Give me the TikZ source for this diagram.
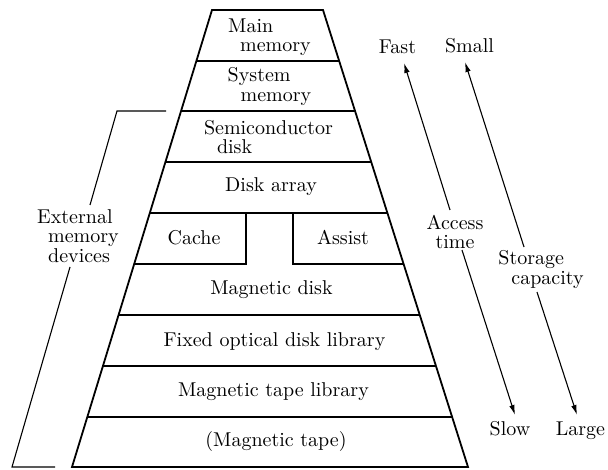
\documentclass[tikz,border=0pt]{standalone}
\usetikzlibrary{arrows.meta}
\begin{document}
\begin{tikzpicture}[x=1pt,y=-1pt,
  txt/.style={inner sep=0pt,scale=2,font=\fontsize{10}{9.75}\selectfont},
  lab/.style={txt,anchor=base},
  frame/.style={line width=1.8pt,line join=miter},
  thin/.style={line width=1.1pt},
  arr/.style={thin,-{Latex[length=10pt,width=5.5pt]}}]
\useasboundingbox (0,0) rectangle (608,470);
% pyramid outline
\coordinate (TL) at (212,10);
\coordinate (TR) at (323,10);
\coordinate (BR) at (468,467);
\coordinate (BL) at (72,467);
\draw[frame] (TL) -- (TR) -- (BR) -- (BL) -- cycle;
% layer boundaries
\draw[frame] (196.4,61) -- (339.2,61);
\draw[frame] (181.1,111) -- (355.0,111);
\draw[frame] (165.4,162) -- (371.2,162);
\draw[frame] (149.8,213) -- (387.4,213);
\draw[frame] (134.2,264) -- (246,264) -- (246,213);
\draw[frame] (403.6,264) -- (293,264) -- (293,213);
\draw[frame] (118.6,315) -- (419.8,315);
\draw[frame] (102.9,366) -- (436.0,366);
\draw[frame] (87.3,417) -- (452.1,417);
% layer labels
\node[txt,align=left] (main) at (269.5,37) {Main\\\hspace*{6pt}memory};
\node[txt,align=left] (sys) at (269.5,86.5) {System\\\hspace*{6.5pt}memory};
\node[txt,align=left] (semi) at (268.5,137) {Semiconductor\\\hspace*{6.5pt}disk};
\node[lab] (darr) at (271,192) {Disk array};
\node[lab] (cache) at (194,245) {Cache};
\node[lab] (assist) at (343,245) {Assist};
\node[lab] (mdisk) at (271.5,295) {Magnetic disk};
\node[lab] (fodl) at (274.5,346.5) {Fixed optical disk library};
\node[lab] (mtl) at (273.5,396.5) {Magnetic tape library};
\node[lab] (mt) at (276,446.5) {(Magnetic tape)};
% external memory bracket
\coordinate (b1) at (166,111);
\coordinate (b2) at (117,111);
\coordinate (b3) at (90,205);
\coordinate (b4) at (70,267);
\coordinate (b5) at (12,467);
\coordinate (b6) at (55,467);
\draw[thin] (b1) -- (b2) -- (b3);
\draw[thin] (b4) -- (b5) -- (b6);
\node[txt,align=left] (ext) at (78,236) {External\\\hspace*{5.5pt}memory\\\hspace*{5.5pt}devices};
% right side
\node[lab] (fast) at (397.5,54) {Fast};
\node[lab] (small) at (469.5,53) {Small};
\node[lab] (slow) at (510,435) {Slow};
\node[lab] (large) at (580.5,435) {Large};
\node[txt,align=center] (acc) at (455,232) {Access\\time};
\node[txt,align=left] (stor) at (541,269.5) {Storage\\\hspace*{6.5pt}capacity};
\coordinate (a1) at (450,210);
\coordinate (a2) at (404,63);
\coordinate (a3) at (462,250);
\coordinate (a4) at (515,415);
\coordinate (s1) at (524,247);
\coordinate (s2) at (465,62);
\coordinate (s3) at (537,292);
\coordinate (s4) at (577,415);
\draw[arr] (a1) -- (a2);
\draw[arr] (a3) -- (a4);
\draw[arr] (s1) -- (s2);
\draw[arr] (s3) -- (s4);
\end{tikzpicture}
\end{document}
